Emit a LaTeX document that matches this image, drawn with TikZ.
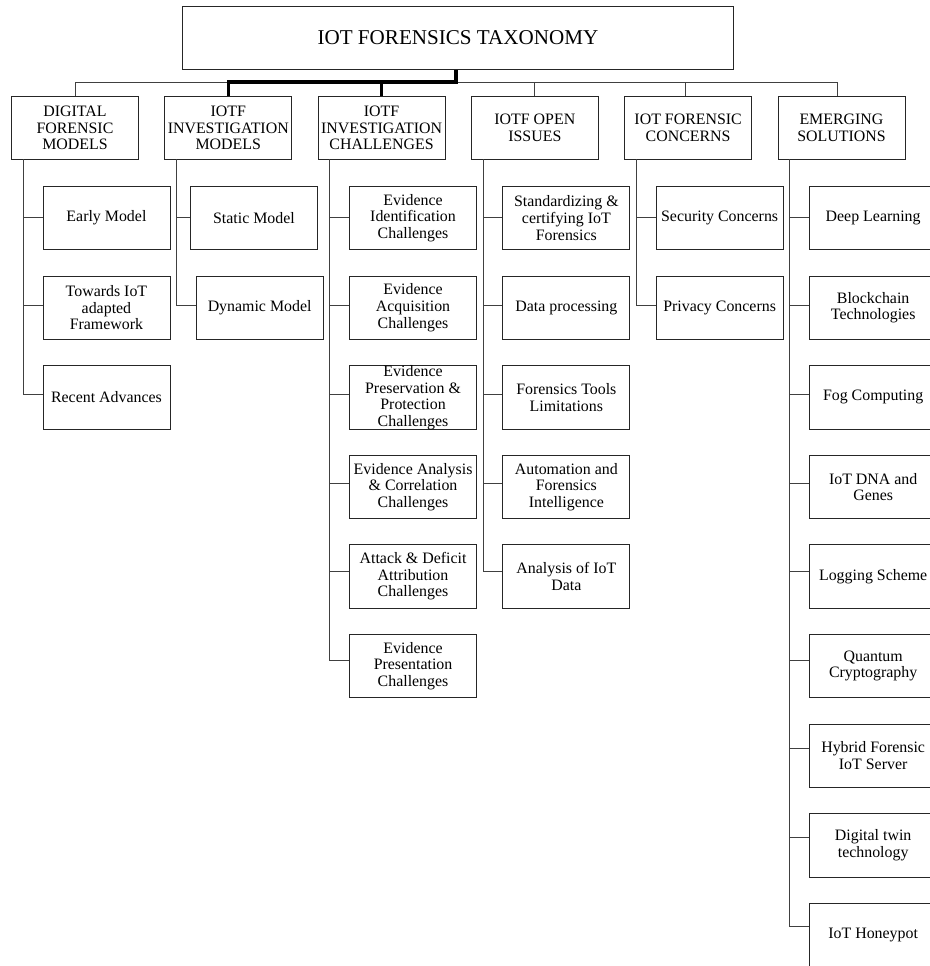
\documentclass[tikz,border=0pt]{standalone}
\usepackage{fontspec}
\setmainfont{Liberation Serif}
\newcommand\boxfont{\fontsize{15.9}{16.6}\selectfont}
\newcommand\rootfont{\fontsize{21.1}{22}\selectfont}
\tikzset{
  every picture/.style={x=1pt,y=-1pt},
  bx/.style={draw=black!85, line width=0.9pt, minimum width=127pt, minimum height=63.3pt,
    inner sep=0pt, align=center, font=\boxfont, anchor=north west},
  conn/.style={draw=black!75, line width=0.9pt},
  thickconn/.style={draw=black, line width=3.2pt},
}
\begin{document}
\begin{tikzpicture}
\useasboundingbox (0,0) rectangle (929,966);
% root
\node[bx, minimum width=551.6pt, font=\rootfont] (root) at (181.7,6) {IOT FORENSICS TAXONOMY};
% categories
\node[bx] (cat1) at (11,96)    {DIGITAL\\FORENSIC\\MODELS};
\node[bx] (cat2) at (164.3,96) {IOTF\\INVESTIGATION\\MODELS};
\node[bx] (cat3) at (317.6,96) {IOTF\\INVESTIGATION\\CHALLENGES};
\node[bx] (cat4) at (470.9,96) {IOTF OPEN\\ISSUES};
\node[bx] (cat5) at (624.2,96) {IOT FORENSIC\\CONCERNS};
\node[bx] (cat6) at (777.5,96) {EMERGING\\SOLUTIONS};
% bus
\coordinate (bus) at (0,82);
\draw[conn] (cat1.north) -- (cat1.north |- bus) -- ([xshift=-4pt]cat6.north |- bus) -- ([xshift=-4pt]cat6.north);
\draw[conn] (cat4.north) -- (cat4.north |- bus);
\draw[conn] ([xshift=-3pt]cat5.north) -- ([xshift=-3pt]cat5.north |- bus);
\draw[thickconn] (cat2.north) -- (cat2.north |- bus) -- ([xshift=-1.5pt]root.south |- bus);
\draw[thickconn] (cat3.north) -- (cat3.north |- bus);
\draw[draw=black, line width=4pt] ([xshift=-1.5pt]root.south) -- ([xshift=-1.5pt,yshift=-1.6pt]root.south |- bus);
% trunk tops
\coordinate (T1) at (23.3,159.3);
\coordinate (T2) at (176.6,159.3);
\coordinate (T3) at (329.9,159.3);
\coordinate (T4) at (483.2,159.3);
\coordinate (T5) at (636.5,159.3);
\coordinate (T6) at (789.8,159.3);
% column 1
\node[bx] (a1) at (42.5,186)   {Early Model};
\node[bx] (a2) at (42.5,275.6) {Towards IoT\\adapted\\Framework};
\node[bx] (a3) at (42.5,365.2) {Recent Advances};
% column 2
\node[bx] (b1) at (190,186)     {Static Model};
\node[bx] (b2) at (195.7,275.6) {Dynamic Model};
% column 3
\node[bx] (c1) at (349.1,186)   {Evidence\\Identification\\Challenges};
\node[bx] (c2) at (349.1,275.6) {Evidence\\Acquisition\\Challenges};
\node[bx] (c3) at (349.1,365.2) {Evidence\\Preservation \&\\Protection\\Challenges};
\node[bx] (c4) at (349.1,454.8) {Evidence Analysis\\\& Correlation\\Challenges};
\node[bx] (c5) at (349.1,544.4) {Attack \& Deficit\\Attribution\\Challenges};
\node[bx] (c6) at (349.1,634)   {Evidence\\Presentation\\Challenges};
% column 4
\node[bx] (d1) at (502.4,186)   {Standardizing \&\\certifying IoT\\Forensics};
\node[bx] (d2) at (502.4,275.6) {Data processing};
\node[bx] (d3) at (502.4,365.2) {Forensics Tools\\Limitations};
\node[bx] (d4) at (502.4,454.8) {Automation and\\Forensics\\Intelligence};
\node[bx] (d5) at (502.4,544.4) {Analysis of IoT\\Data};
% column 5
\node[bx] (e1) at (655.7,186)   {Security Concerns};
\node[bx] (e2) at (655.7,275.6) {Privacy Concerns};
% column 6
\node[bx] (f1) at (809.2,186)   {Deep Learning};
\node[bx] (f2) at (809.2,275.6) {Blockchain\\Technologies};
\node[bx] (f3) at (809.2,365.2) {Fog Computing};
\node[bx] (f4) at (809.2,454.8) {IoT DNA and\\Genes};
\node[bx] (f5) at (809.2,544.4) {Logging Scheme};
\node[bx] (f6) at (809.2,634)   {Quantum\\Cryptography};
\node[bx] (f7) at (809.2,723.6) {Hybrid Forensic\\IoT Server};
\node[bx] (f8) at (809.2,813.2) {Digital twin\\technology};
\node[bx] (f9) at (809.2,902.8) {IoT Honeypot};
% branches
\draw[conn] (T1) |- ([yshift=0.95pt]a1.west);
\draw[conn] (T1) |- ([yshift=1.95pt]a2.west);
\draw[conn] (T1) |- ([yshift=2.95pt]a3.west);
\draw[conn] (T2) |- ([yshift=0.95pt]b1.west);
\draw[conn] (T2) |- ([yshift=1.95pt]b2.west);
\draw[conn] (T3) |- ([yshift=0.95pt]c1.west);
\draw[conn] (T3) |- ([yshift=1.95pt]c2.west);
\draw[conn] (T3) |- ([yshift=2.95pt]c3.west);
\draw[conn] (T3) |- ([yshift=3.95pt]c4.west);
\draw[conn] (T3) |- ([yshift=4.95pt]c5.west);
\draw[conn] (T3) |- ([yshift=5.95pt]c6.west);
\draw[conn] (T4) |- ([yshift=0.95pt]d1.west);
\draw[conn] (T4) |- ([yshift=1.95pt]d2.west);
\draw[conn] (T4) |- ([yshift=2.95pt]d3.west);
\draw[conn] (T4) |- ([yshift=3.95pt]d4.west);
\draw[conn] (T4) |- ([yshift=4.95pt]d5.west);
\draw[conn] (T5) |- ([yshift=0.95pt]e1.west);
\draw[conn] (T5) |- ([yshift=1.95pt]e2.west);
\draw[conn] (T6) |- ([yshift=0.95pt]f1.west);
\draw[conn] (T6) |- ([yshift=1.95pt]f2.west);
\draw[conn] (T6) |- ([yshift=2.95pt]f3.west);
\draw[conn] (T6) |- ([yshift=3.95pt]f4.west);
\draw[conn] (T6) |- ([yshift=4.95pt]f5.west);
\draw[conn] (T6) |- ([yshift=5.95pt]f6.west);
\draw[conn] (T6) |- ([yshift=6.95pt]f7.west);
\draw[conn] (T6) |- ([yshift=7.95pt]f8.west);
\draw[conn] (T6) |- ([yshift=8.95pt]f9.west);
\end{tikzpicture}
\end{document}
